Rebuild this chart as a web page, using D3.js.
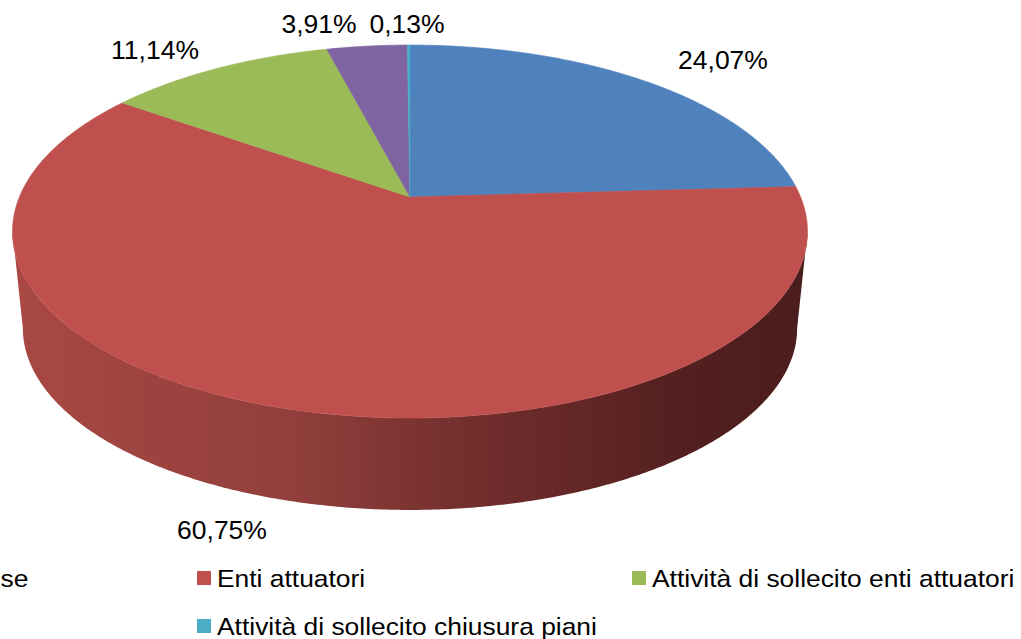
<!DOCTYPE html>
<html>
<head>
<meta charset="utf-8">
<script src="https://cdn.jsdelivr.net/npm/d3@7/dist/d3.min.js"></script>
<style>
  html, body { margin: 0; padding: 0; background: #fff; }
  svg { display: block; }
  text { font-family: "Liberation Sans", Arial, sans-serif; fill: #000; }
</style>
</head>
<body>
<svg id="chart" width="1021" height="639"></svg>
<script>
// ---- data ----
const categories = [
  "Quesiti delle imprese",
  "Enti attuatori",
  "Attività di sollecito enti attuatori",
  "Altre attività",
  "Attività di sollecito chiusura piani"
];
const values = [24.07, 60.75, 11.14, 3.91, 0.13];
const valueLabels = ["24,07%", "60,75%", "11,14%", "3,91%", "0,13%"];
const colors = ["#4F81BD", "#C0504D", "#9BBB59", "#8064A2", "#4BACC6"];

// ---- layout ----
const W = 1021, H = 639;
const cx = 410, cy = 197;          // projected pie centre (top face)
const A = 390.6, B = 180.1;        // projected radii
const k = 0.185;                   // perspective strength
const depth = 97.7, bottomScale = 0.974;
const labelAnchors = [[723, 69], [222, 539], [155, 59], [319, 33], [407, 33]];
const legendCols = [-238, 197, 632];
const legendRows = [571, 619];

const svg = d3.select("#chart");

function proj(theta, r, bottom) {
  const u = r * Math.sin(theta), v = r * Math.cos(theta);
  const w = 1 + k * v;
  const sc = bottom ? bottomScale : 1;
  return [cx + sc * A * u / w, cy + (bottom ? depth : 0) - sc * B * v / w];
}
function arcPts(a0, a1, bottom) {
  const n = Math.max(2, Math.ceil(Math.abs(a1 - a0) / (Math.PI / 360)));
  const pts = [];
  for (let i = 0; i <= n; i++) pts.push(proj(a0 + (a1 - a0) * i / n, 1, bottom));
  return pts;
}

const pie = d3.pie().sort(null).value(d => d)(values);
const line = d3.line();

// gradient for wall
const defs = svg.append("defs");
const wallShades = [
  ["#C0504D", [["0%", "#a94843"], ["35%", "#913f3c"], ["60%", "#6f2d2c"], ["85%", "#531f1f"], ["100%", "#4a1d1d"]]],
  ["#4F81BD", [["0%", "#3f6797"], ["100%", "#1f3350"]]],
  ["#9BBB59", [["0%", "#7c9647"], ["100%", "#3e4b24"]]],
  ["#8064A2", [["0%", "#665082"], ["100%", "#332841"]]],
  ["#4BACC6", [["0%", "#3c8a9e"], ["100%", "#1e454f"]]]
];
wallShades.forEach((ws, i) => {
  const g = defs.append("linearGradient")
    .attr("id", "wall" + i).attr("gradientUnits", "userSpaceOnUse")
    .attr("x1", cx - A * 1.02).attr("x2", cx + A * 1.02).attr("y1", 0).attr("y2", 0);
  ws[1].forEach(s => g.append("stop").attr("offset", s[0]).attr("stop-color", s[1]));
});
function wallFill(color) {
  const idx = wallShades.findIndex(w => w[0] === color);
  return "url(#wall" + idx + ")";
}

// visible outer wall range
const thR = Math.acos(-k), thL = 2 * Math.PI - thR;
const walls = svg.append("g");
pie.forEach((p, i) => {
  const a0 = Math.max(p.startAngle, thR), a1 = Math.min(p.endAngle, thL);
  if (a1 <= a0) return;
  const top = arcPts(a0, a1, false);
  const bot = arcPts(a1, a0, true);
  walls.append("path")
    .attr("d", line(top.concat(bot)) + "Z")
    .attr("fill", wallFill(colors[i]));
});

// top faces
const tops = svg.append("g");
pie.forEach((p, i) => {
  const pts = [proj(0, 0, false)].concat(arcPts(p.startAngle, p.endAngle, false));
  tops.append("path")
    .attr("d", line(pts) + "Z")
    .attr("fill", colors[i])
    .attr("stroke", colors[i]).attr("stroke-width", 0.6);
});

// data labels
svg.append("g").selectAll("text").data(valueLabels).join("text")
  .attr("x", (d, i) => labelAnchors[i][0])
  .attr("y", (d, i) => labelAnchors[i][1])
  .attr("text-anchor", "middle")
  .attr("font-size", 26.5)
  .text(d => d);

// legend
const leg = svg.append("g");
categories.forEach((c, i) => {
  const col = i % 3, row = Math.floor(i / 3);
  const x = legendCols[col], y = legendRows[row];
  leg.append("rect").attr("x", x).attr("y", y).attr("width", 14).attr("height", 14)
    .attr("fill", colors[i]);
  leg.append("text")
    .attr("transform", `translate(${x + 20},${y + 16}) scale(1.1,1)`)
    .attr("font-size", 24)
    .text(c);
});
</script>
</body>
</html>
